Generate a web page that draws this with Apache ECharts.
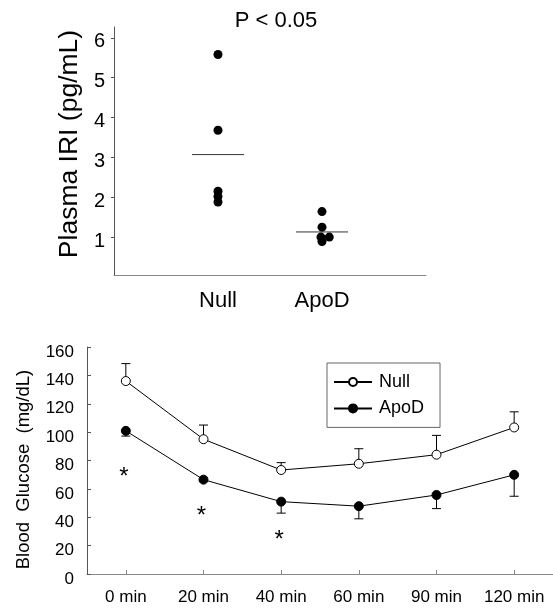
<!DOCTYPE html>
<html>
<head>
<meta charset="utf-8">
<script src="https://cdn.jsdelivr.net/npm/echarts@6/dist/echarts.min.js"></script>
<style>
html,body{margin:0;padding:0;background:#fff;}
#chart{width:553px;height:609px;}
</style>
</head>
<body>
<div id="chart"></div>
<script>
// ---- Top panel data (Plasma IRI, pg/mL) ----
const topCategories = ['Null', 'ApoD'];
const nullIRI = [5.58, 3.68, 2.15, 2.02, 1.88];
const apodIRI = [1.64, 1.25, 1.0, 1.0, 0.89];
const apodJitter = [0, 0, -0.01, 0.07, 0];
const iriMeans = [3.07, 1.13];
const iriTicks = [1, 2, 3, 4, 5, 6];
const pText = 'P < 0.05';

// ---- Bottom panel data (Blood Glucose, mg/dL) ----
const timeLabels = ['0 min', '20 min', '40 min', '60 min', '90 min', '120 min'];
const nullGlucose = [136, 95, 73.3, 77.7, 84.1, 103.3];
const nullUpper = [148.3, 105, 78.5, 88.3, 97.7, 114.3];
const apodGlucose = [100.9, 66.5, 51, 47.8, 55.7, 69.9];
const apodLower = [97.2, 65.3, 42.9, 38.9, 46.1, 54.8];
const sigIndex = [0, 1, 2];
const sigLevel = [72, 44.5, 28];

const FONT = "'Liberation Sans', Arial, sans-serif";

const chart = echarts.init(document.getElementById('chart'), null, {renderer: 'canvas'});

const nullPts = nullIRI.map(v => [1, v]);
const apodPts = apodIRI.map((v, i) => [2 + apodJitter[i], v]);
const meanData = iriMeans.map((m, i) => [i + 1, m]);

const nullErr = nullGlucose.map((v, i) => [i, v, nullUpper[i]]);
const apodErr = apodGlucose.map((v, i) => [i, v, apodLower[i]]);
const sigData = sigIndex.map((c, i) => [c, sigLevel[i]]);

function errRender(params, api) {
  const i = api.value(0);
  const p0 = api.coord([i, api.value(1)]);
  const p1 = api.coord([i, api.value(2)]);
  const hw = 4.5;
  return {
    type: 'group',
    children: [
      {type: 'line', shape: {x1: p0[0], y1: p0[1], x2: p1[0], y2: p1[1]}, style: {stroke: '#000', lineWidth: 1}},
      {type: 'line', shape: {x1: p1[0] - hw, y1: p1[1], x2: p1[0] + hw, y2: p1[1]}, style: {stroke: '#000', lineWidth: 1}}
    ]
  };
}

const option = {
  backgroundColor: '#fff',
  animation: false,
  textStyle: {fontFamily: FONT},
  graphic: [{
    type: 'text',
    x: 276, y: 21,
    style: {text: pText, fontSize: 22, fontFamily: FONT, fill: '#000', align: 'center', verticalAlign: 'middle'}
  }],
  legend: {
    data: ['Null', 'ApoD'],
    orient: 'vertical',
    left: 327, top: 363,
    padding: [10, 16, 10, 6],
    itemWidth: 38, itemHeight: 10, itemGap: 8.4,
    borderColor: '#666', borderWidth: 1, borderRadius: 0,
    textStyle: {fontSize: 18, lineHeight: 10, color: '#000', fontFamily: FONT, padding: [0, 0, 0, 2]}
  },
  grid: [
    {left: 114, top: 27, width: 312, height: 248},
    {left: 87, top: 347, width: 466, height: 227}
  ],
  xAxis: [
    {
      gridIndex: 0, type: 'value', min: 0, max: 3, interval: 1,
      splitLine: {show: false},
      axisLine: {show: true, lineStyle: {color: '#888', width: 1}},
      axisTick: {show: false},
      axisLabel: {
        customValues: [1, 2],
        formatter: v => topCategories[Math.round(v) - 1] || '',
        fontSize: 22, color: '#000', margin: 15, fontFamily: FONT
      }
    },
    {
      gridIndex: 1, type: 'category', data: timeLabels, boundaryGap: true,
      axisLine: {lineStyle: {color: '#888', width: 1}},
      axisTick: {show: true, alignWithLabel: true, inside: true, length: 4, interval: 0, lineStyle: {color: '#888'}},
      axisLabel: {interval: 0, fontSize: 17, color: '#000', margin: 15, fontFamily: FONT}
    }
  ],
  yAxis: [
    {
      gridIndex: 0, type: 'value', min: 0.05, max: 6.27,
      name: 'Plasma IRI (pg/mL)', nameLocation: 'middle', nameRotate: 90, nameGap: 31,
      nameTextStyle: {fontSize: 26.5, color: '#000', fontFamily: FONT, padding: [0, 0, 0, 14]},
      splitLine: {show: false},
      axisLine: {show: true, lineStyle: {color: '#555', width: 1}},
      axisTick: {show: true, customValues: iriTicks, length: 3, lineStyle: {color: '#555'}},
      axisLabel: {customValues: iriTicks, fontSize: 20, color: '#000', margin: 9,
        verticalAlign: 'top', lineHeight: 8, fontFamily: FONT}
    },
    {
      gridIndex: 1, type: 'value', min: 0, max: 160, interval: 20,
      name: 'Blood  Glucose  (mg/dL)', nameLocation: 'middle', nameRotate: 90, nameGap: 54,
      nameTextStyle: {fontSize: 18.5, color: '#000', fontFamily: FONT, padding: [0, 18, 0, 0]},
      splitLine: {show: false},
      axisLine: {show: true, lineStyle: {color: '#555', width: 1}},
      axisTick: {show: true, inside: true, length: 4, lineStyle: {color: '#555'}},
      axisLabel: {fontSize: 17, color: '#000', margin: 13, verticalAlign: 'top', lineHeight: 10, fontFamily: FONT}
    }
  ],
  series: [
    {
      type: 'scatter', xAxisIndex: 0, yAxisIndex: 0, data: nullPts,
      symbol: 'circle', symbolSize: 9, itemStyle: {color: '#000', opacity: 1}, z: 3
    },
    {
      type: 'scatter', xAxisIndex: 0, yAxisIndex: 0, data: apodPts,
      symbol: 'circle', symbolSize: 9, itemStyle: {color: '#000', opacity: 1}, z: 3
    },
    {
      type: 'custom', xAxisIndex: 0, yAxisIndex: 0, data: meanData, z: 2,
      renderItem: function (params, api) {
        const x = api.value(0), y = api.value(1);
        const a = api.coord([x - 0.25, y]);
        const b = api.coord([x + 0.25, y]);
        return {type: 'line', shape: {x1: a[0], y1: a[1], x2: b[0], y2: b[1]}, style: {stroke: '#333', lineWidth: 1}};
      }
    },
    {
      type: 'custom', xAxisIndex: 1, yAxisIndex: 1, data: nullErr, z: 1, renderItem: errRender
    },
    {
      type: 'custom', xAxisIndex: 1, yAxisIndex: 1, data: apodErr, z: 1, renderItem: errRender
    },
    {
      name: 'Null', type: 'line', xAxisIndex: 1, yAxisIndex: 1, data: nullGlucose,
      symbol: 'circle', symbolSize: 9, showSymbol: true,
      lineStyle: {color: '#000', width: 1},
      itemStyle: {color: '#fff', borderColor: '#000', borderWidth: 1},
      z: 5
    },
    {
      name: 'ApoD', type: 'line', xAxisIndex: 1, yAxisIndex: 1, data: apodGlucose,
      symbol: 'circle', symbolSize: 9, showSymbol: true,
      lineStyle: {color: '#000', width: 1},
      itemStyle: {color: '#000', borderColor: '#000', borderWidth: 1},
      z: 5
    },
    {
      type: 'custom', xAxisIndex: 1, yAxisIndex: 1, data: sigData, z: 4,
      renderItem: function (params, api) {
        const p = api.coord([api.value(0), api.value(1)]);
        return {type: 'text', x: p[0] - 2, y: p[1] + 6,
          style: {text: '*', fontSize: 24, fontFamily: FONT, fill: '#000', align: 'center', verticalAlign: 'middle'}};
      }
    }
  ]
};
chart.setOption(option);
</script>
</body>
</html>
